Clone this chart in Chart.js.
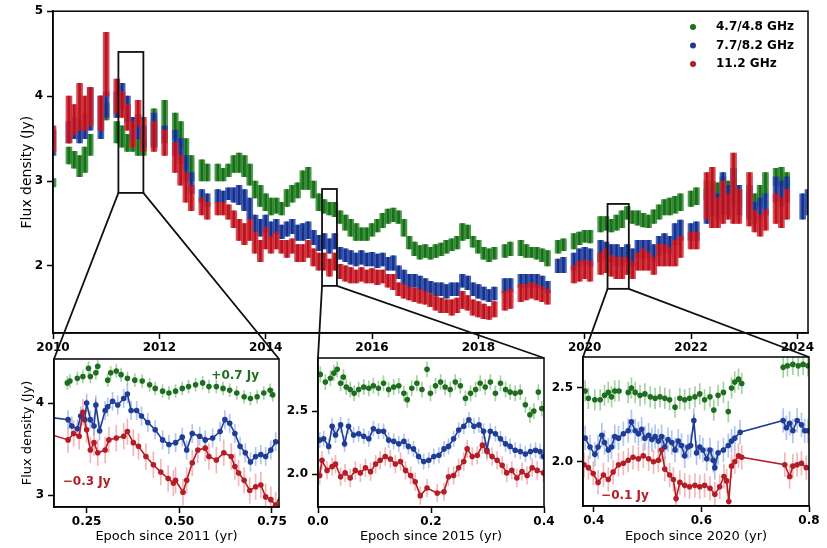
<!DOCTYPE html>
<html>
<head>
<meta charset="utf-8">
<script src="https://cdn.jsdelivr.net/npm/chart.js@4.4.1/dist/chart.umd.min.js"></script>
<style>
  html, body { margin: 0; padding: 0; background: #fff; }
  #wrap { position: relative; width: 827px; height: 548px; overflow: hidden; }
  #wrap canvas { position: absolute; left: 0; top: 0; }
</style>
</head>
<body>
<div id="wrap">
  <canvas id="main" width="827" height="548"></canvas>
  <canvas id="inset1" width="827" height="548"></canvas>
  <canvas id="inset2" width="827" height="548"></canvas>
  <canvas id="inset3" width="827" height="548"></canvas>
  <canvas id="links" width="827" height="548"></canvas>
</div>
<script>
"use strict";

// ---- main panel: epochs (yr) and flux band [low, high] in Jy per series ----
const mainEpochs = [
  2010.0, 2010.1, 2010.2, 2010.3, 2010.4, 2010.5, 2010.6, 2010.7, 2010.8, 2010.9,
  2011.0, 2011.1, 2011.2, 2011.3, 2011.4, 2011.5, 2011.6, 2011.7, 2011.8, 2011.9,
  2012.0, 2012.1, 2012.2, 2012.3, 2012.4, 2012.5, 2012.6, 2012.7, 2012.8, 2012.9,
  2013.0, 2013.1, 2013.2, 2013.3, 2013.4, 2013.5, 2013.6, 2013.7, 2013.8, 2013.9,
  2014.0, 2014.1, 2014.2, 2014.3, 2014.4, 2014.5, 2014.6, 2014.7, 2014.8, 2014.9,
  2015.0, 2015.1, 2015.2, 2015.3, 2015.4, 2015.5, 2015.6, 2015.7, 2015.8, 2015.9,
  2016.0, 2016.1, 2016.2, 2016.3, 2016.4, 2016.5, 2016.6, 2016.7, 2016.8, 2016.9,
  2017.0, 2017.1, 2017.2, 2017.3, 2017.4, 2017.5, 2017.6, 2017.7, 2017.8, 2017.9,
  2018.0, 2018.1, 2018.2, 2018.3, 2018.4, 2018.5, 2018.6, 2018.7, 2018.8, 2018.9,
  2019.0, 2019.1, 2019.2, 2019.3, 2019.4, 2019.5, 2019.6, 2019.7, 2019.8, 2019.9,
  2020.0, 2020.1, 2020.2, 2020.3, 2020.4, 2020.5, 2020.6, 2020.7, 2020.8, 2020.9,
  2021.0, 2021.1, 2021.2, 2021.3, 2021.4, 2021.5, 2021.6, 2021.7, 2021.8, 2021.9,
  2022.0, 2022.1, 2022.2, 2022.3, 2022.4, 2022.5, 2022.6, 2022.7, 2022.8, 2022.9,
  2023.0, 2023.1, 2023.2, 2023.3, 2023.4, 2023.5, 2023.6, 2023.7, 2023.8, 2023.9,
  2024.0, 2024.1, 2024.2
];

const fluxGreen = [
  [2.93,3.03],null,null,[3.2,3.4],[3.15,3.35],[3.05,3.3],[3.1,3.4],[3.3,3.55],null,null,
  [3.72,3.92],null,[3.45,3.7],[3.4,3.65],[3.35,3.55],[3.35,3.55],[3.3,3.5],[3.3,3.5],null,[3.4,3.85],
  null,[3.6,3.95],null,[3.5,3.8],[3.4,3.7],[3.15,3.5],[3.0,3.3],null,[3.0,3.25],[3.0,3.2],
  null,[3.0,3.2],[3.0,3.15],[3.05,3.2],[3.1,3.3],[3.1,3.33],[3.05,3.3],[2.95,3.2],[2.8,3.0],[2.7,2.95],
  [2.65,2.85],[2.6,2.8],[2.62,2.8],[2.6,2.75],[2.7,2.9],[2.75,2.95],[2.8,2.98],[2.9,3.12],[2.9,3.16],[2.8,3.0],
  [2.65,2.85],[2.62,2.78],[2.6,2.75],[2.58,2.75],[2.5,2.65],[2.42,2.6],[2.35,2.55],[2.3,2.5],[2.3,2.45],[2.3,2.45],
  [2.35,2.5],[2.4,2.55],[2.45,2.62],[2.5,2.67],[2.52,2.68],[2.5,2.65],[2.35,2.55],[2.2,2.35],[2.12,2.28],[2.08,2.24],
  [2.1,2.25],[2.08,2.22],[2.1,2.25],[2.12,2.27],[2.15,2.3],[2.18,2.32],[2.2,2.35],[2.3,2.5],[2.32,2.48],[2.22,2.35],
  [2.15,2.3],[2.08,2.22],[2.05,2.2],[2.08,2.22],null,[2.1,2.25],[2.12,2.28],null,[2.12,2.3],[2.1,2.25],
  [2.1,2.22],[2.08,2.22],[2.05,2.2],[2.0,2.18],null,[2.15,2.3],[2.18,2.32],null,[2.2,2.38],[2.25,2.4],
  [2.28,2.42],[2.27,2.42],null,[2.4,2.58],[2.42,2.58],[2.4,2.55],[2.42,2.6],[2.45,2.65],[2.55,2.7],[2.5,2.65],
  [2.48,2.65],[2.46,2.62],[2.45,2.6],[2.5,2.66],[2.55,2.72],[2.6,2.78],[2.6,2.8],[2.62,2.82],[2.65,2.85],null,
  [2.7,2.88],[2.72,2.92],null,[2.78,3.0],[2.8,3.0],[2.78,2.98],[2.8,3.05],[2.75,3.0],[2.78,3.0],[2.7,2.9],
  null,[2.6,2.85],[2.65,2.85],[2.7,2.95],[2.85,3.1],null,[2.95,3.15],[2.93,3.16],[2.9,3.1],null,
  null,null,null
];

const fluxBlue = [
  [3.3,3.6],null,null,[3.45,3.7],[3.5,3.75],[3.45,3.7],[3.5,3.8],[3.6,4.1],null,[3.5,4.0],
  [3.75,4.05],null,[3.75,4.05],[3.85,4.15],[3.7,4.0],[3.5,3.75],[3.5,3.78],[3.4,3.65],null,[3.4,3.8],
  null,[3.45,3.65],null,[3.3,3.6],[3.2,3.5],[3.0,3.3],[2.85,3.1],null,[2.75,2.9],[2.7,2.85],
  null,[2.75,2.9],[2.75,2.88],[2.78,2.92],[2.75,2.92],[2.72,2.95],[2.65,2.9],[2.55,2.8],[2.4,2.6],[2.35,2.55],
  [2.4,2.6],[2.35,2.52],[2.38,2.55],[2.32,2.48],[2.35,2.52],[2.38,2.55],[2.3,2.48],[2.3,2.5],[2.32,2.52],[2.25,2.42],
  [2.18,2.36],[2.2,2.38],[2.15,2.32],[2.2,2.38],[2.08,2.22],[2.05,2.2],[2.02,2.18],[2.0,2.15],[2.02,2.18],[2.0,2.15],
  [2.0,2.16],[1.98,2.14],[2.0,2.15],[1.95,2.1],[1.95,2.12],[1.85,2.0],[1.78,1.95],[1.75,1.9],[1.75,1.9],[1.72,1.88],
  [1.7,1.85],[1.68,1.82],[1.65,1.8],[1.65,1.8],[1.62,1.78],[1.65,1.8],[1.65,1.8],[1.75,1.9],[1.72,1.88],[1.65,1.8],
  [1.62,1.78],[1.6,1.75],[1.58,1.72],[1.6,1.75],null,[1.68,1.85],[1.7,1.85],null,[1.75,1.9],[1.75,1.9],
  [1.75,1.9],[1.75,1.9],[1.72,1.88],[1.68,1.82],null,[1.92,2.08],[1.92,2.1],null,[1.95,2.15],[2.0,2.2],
  [2.02,2.22],[2.0,2.2],null,[2.05,2.3],[2.08,2.28],[2.05,2.25],[2.0,2.25],[2.0,2.22],[2.05,2.25],[2.0,2.2],
  [2.1,2.3],[2.08,2.3],[2.1,2.3],[2.05,2.25],[2.12,2.35],[2.15,2.38],[2.15,2.35],[2.25,2.5],[2.3,2.54],null,
  [2.3,2.5],[2.3,2.52],null,[2.5,2.9],[2.6,2.95],[2.55,2.85],[2.6,3.1],[2.6,2.95],[2.7,3.15],[2.6,2.95],
  null,[2.55,2.95],[2.5,2.75],[2.55,2.8],[2.6,2.85],null,[2.75,3.05],[2.7,3.0],[2.75,3.05],null,
  null,[2.55,2.85],[2.6,2.9]
];

const fluxRed = [
  [3.35,3.65],null,null,[3.45,4.0],[3.55,3.9],[3.6,4.15],[3.6,4.0],[3.65,4.1],null,[3.6,4.0],
  [4.0,4.75],null,[3.8,4.2],[3.75,4.05],[3.6,3.9],[3.4,3.7],[3.65,3.95],[3.35,3.75],null,[3.35,3.7],
  null,[3.3,3.6],null,[3.1,3.45],[2.95,3.3],[2.75,3.1],[2.65,2.95],null,[2.6,2.8],[2.55,2.75],
  null,[2.6,2.75],[2.6,2.75],[2.55,2.72],[2.45,2.65],[2.3,2.55],[2.25,2.5],[2.3,2.55],[2.15,2.4],[2.05,2.3],
  [2.2,2.45],[2.15,2.35],[2.2,2.4],[2.15,2.3],[2.1,2.3],[2.15,2.32],[2.05,2.25],[2.05,2.25],[2.1,2.3],[2.0,2.2],
  [1.95,2.15],[1.95,2.15],[1.88,2.08],[1.95,2.15],[1.85,2.02],[1.82,2.0],[1.8,1.98],[1.8,1.95],[1.82,1.98],[1.8,1.95],
  [1.8,1.97],[1.78,1.95],[1.8,1.95],[1.75,1.9],[1.72,1.9],[1.65,1.8],[1.62,1.78],[1.6,1.75],[1.58,1.74],[1.56,1.72],
  [1.55,1.7],[1.52,1.67],[1.48,1.64],[1.45,1.62],[1.45,1.6],[1.42,1.6],[1.45,1.62],[1.5,1.7],[1.48,1.65],[1.42,1.6],
  [1.4,1.58],[1.38,1.55],[1.37,1.52],[1.4,1.58],null,[1.48,1.7],[1.5,1.72],null,[1.58,1.78],[1.6,1.78],
  [1.62,1.8],[1.6,1.78],[1.58,1.75],[1.55,1.72],null,null,null,null,[1.8,2.0],[1.82,2.05],
  [1.85,2.07],[1.82,2.05],null,[1.9,2.15],[1.92,2.2],[1.88,2.12],[1.85,2.1],[1.85,2.1],[1.9,2.1],[1.85,2.05],
  [1.95,2.15],[1.95,2.2],[1.95,2.15],[1.9,2.1],[2.0,2.25],[2.0,2.25],[2.0,2.22],[2.0,2.3],[2.1,2.35],null,
  [2.2,2.4],[2.2,2.4],null,[2.55,3.1],[2.45,3.16],[2.45,2.8],[2.5,3.0],[2.55,2.85],[2.5,3.33],[2.5,2.9],
  null,[2.47,3.1],[2.4,2.65],[2.35,2.6],[2.42,2.66],null,[2.5,2.85],[2.45,2.8],[2.55,2.9],null,
  null,null,null
];

const legendLabels = ["4.7/4.8 GHz", "7.7/8.2 GHz", "11.2 GHz"];
const mainXTicks = [2010, 2012, 2014, 2016, 2018, 2020, 2022, 2024];
const mainYTicks = [2, 3, 4, 5];

// zoom windows marked on the main panel: [x0, x1, y0, y1]
const zoomWindows = [
  [2011.23, 2011.70, 2.86, 4.52],
  [2015.06, 2015.34, 1.765, 2.906],
  [2020.43, 2020.83, 1.73, 2.73]
];

// ---- inset 1: epoch since 2011 ----
const in1GreenT = [0.198,0.205,0.225,0.24,0.255,0.26,0.275,0.28,0.307,0.315,0.33,0.343,0.36,0.38,0.4,0.42,0.435,0.455,0.472,0.49,0.508,0.525,0.544,0.563,0.58,0.6,0.618,0.636,0.655,0.675,0.692,0.71,0.728,0.745,0.752];
const in1GreenV = [4.22,4.24,4.27,4.29,4.38,4.29,4.33,4.4,4.25,4.33,4.35,4.31,4.27,4.25,4.24,4.2,4.16,4.13,4.11,4.13,4.16,4.18,4.2,4.22,4.18,4.18,4.16,4.14,4.11,4.07,4.05,4.07,4.11,4.14,4.09];
const in1BlueT = [0.12,0.2,0.21,0.225,0.234,0.245,0.25,0.26,0.27,0.275,0.285,0.3,0.307,0.32,0.334,0.35,0.36,0.37,0.385,0.398,0.415,0.435,0.455,0.472,0.49,0.508,0.52,0.535,0.555,0.57,0.59,0.61,0.623,0.636,0.65,0.664,0.678,0.692,0.706,0.72,0.733,0.747,0.76,0.80];
const in1BlueV = [3.86,3.82,3.75,3.72,3.86,3.82,4.0,3.82,3.75,3.98,3.7,3.92,3.96,4.02,3.98,4.05,4.1,3.92,3.92,3.86,3.79,3.71,3.6,3.55,3.57,3.63,3.49,3.67,3.64,3.6,3.62,3.69,3.82,3.78,3.67,3.53,3.46,3.36,3.42,3.44,3.42,3.49,3.58,3.53];
const in1RedT = [0.12,0.2,0.215,0.23,0.24,0.25,0.26,0.27,0.28,0.3,0.31,0.33,0.35,0.36,0.376,0.39,0.41,0.43,0.45,0.47,0.484,0.49,0.51,0.52,0.535,0.55,0.57,0.58,0.6,0.62,0.64,0.65,0.66,0.675,0.69,0.706,0.72,0.733,0.747,0.76,0.785];
const in1RedV = [3.7,3.6,3.67,3.64,3.9,3.71,3.49,3.57,3.46,3.49,3.6,3.62,3.64,3.69,3.57,3.53,3.42,3.33,3.25,3.18,3.13,3.16,3.03,3.16,3.35,3.49,3.51,3.42,3.38,3.46,3.42,3.31,3.24,3.16,3.05,3.09,3.11,2.98,2.95,2.89,3.1];

// ---- inset 2: epoch since 2015 ----
const in2GreenT = [0.004,0.013,0.022,0.028,0.034,0.04,0.045,0.05,0.057,0.064,0.072,0.081,0.09,0.098,0.107,0.116,0.125,0.134,0.143,0.152,0.158,0.166,0.175,0.184,0.193,0.199,0.208,0.217,0.225,0.234,0.243,0.252,0.261,0.27,0.279,0.287,0.296,0.305,0.314,0.323,0.332,0.34,0.349,0.358,0.367,0.375,0.382,0.39,0.396];
const in2GreenV = [2.79,2.73,2.76,2.8,2.83,2.72,2.77,2.69,2.67,2.64,2.67,2.69,2.68,2.7,2.68,2.72,2.67,2.69,2.7,2.64,2.59,2.68,2.72,2.67,2.83,2.64,2.7,2.73,2.69,2.67,2.73,2.7,2.6,2.64,2.67,2.72,2.69,2.73,2.64,2.72,2.67,2.65,2.64,2.65,2.55,2.47,2.5,2.65,2.52];
const in2BlueT = [0.003,0.01,0.019,0.025,0.031,0.04,0.047,0.054,0.063,0.072,0.081,0.09,0.098,0.107,0.116,0.125,0.134,0.143,0.152,0.16,0.169,0.178,0.187,0.196,0.205,0.214,0.223,0.231,0.24,0.249,0.258,0.267,0.276,0.285,0.293,0.299,0.305,0.314,0.323,0.332,0.34,0.349,0.358,0.367,0.376,0.385,0.393,0.399];
const in2BlueV = [2.27,2.28,2.22,2.38,2.31,2.39,2.24,2.38,2.31,2.32,2.3,2.28,2.36,2.34,2.34,2.27,2.26,2.24,2.26,2.22,2.2,2.14,2.1,2.11,2.14,2.15,2.2,2.22,2.28,2.35,2.38,2.43,2.38,2.39,2.34,2.19,2.34,2.32,2.28,2.24,2.22,2.19,2.18,2.16,2.18,2.19,2.18,2.14];
const in2RedT = [0.003,0.007,0.016,0.025,0.031,0.04,0.048,0.057,0.066,0.075,0.084,0.093,0.102,0.11,0.119,0.128,0.137,0.146,0.155,0.164,0.172,0.181,0.193,0.211,0.223,0.231,0.24,0.249,0.258,0.264,0.273,0.282,0.291,0.299,0.308,0.317,0.326,0.334,0.343,0.352,0.361,0.37,0.379,0.388,0.399];
const in2RedV = [1.99,2.11,2.03,2.06,2.08,1.98,2.01,1.97,2.03,2.01,2.05,2.02,2.08,2.11,2.14,2.12,2.08,2.1,2.03,1.99,1.94,1.83,1.89,1.85,1.86,1.98,1.99,2.05,2.1,2.2,2.14,2.15,2.23,2.18,2.14,2.11,2.07,2.01,2.03,1.97,2.02,1.99,2.05,2.03,2.01];

// ---- inset 3: epoch since 2020 ----
const in3GreenT = [0.384,0.39,0.402,0.412,0.42,0.427,0.433,0.439,0.447,0.464,0.47,0.477,0.486,0.495,0.505,0.514,0.523,0.532,0.541,0.551,0.56,0.569,0.578,0.588,0.597,0.606,0.616,0.623,0.631,0.641,0.65,0.656,0.662,0.669,0.675,0.752,0.76,0.77,0.78,0.789,0.798];
const in3GreenV = [2.48,2.43,2.42,2.42,2.45,2.47,2.44,2.48,2.48,2.47,2.5,2.47,2.45,2.46,2.44,2.43,2.44,2.43,2.42,2.37,2.43,2.42,2.43,2.44,2.46,2.42,2.44,2.35,2.45,2.47,2.34,2.5,2.54,2.56,2.53,2.64,2.65,2.66,2.65,2.66,2.65];
const in3BlueT = [0.384,0.393,0.402,0.408,0.415,0.42,0.427,0.433,0.439,0.446,0.455,0.464,0.47,0.477,0.483,0.489,0.495,0.502,0.508,0.514,0.52,0.526,0.532,0.538,0.545,0.551,0.557,0.563,0.569,0.575,0.58,0.586,0.591,0.597,0.603,0.61,0.616,0.622,0.625,0.631,0.641,0.65,0.656,0.662,0.672,0.752,0.758,0.764,0.77,0.778,0.786,0.792,0.798];
const in3BlueV = [2.16,2.1,2.05,2.1,2.18,2.13,2.08,2.1,2.17,2.16,2.19,2.21,2.27,2.21,2.19,2.22,2.16,2.18,2.15,2.17,2.14,2.17,2.1,2.15,2.13,2.08,2.14,2.11,2.04,2.1,2.11,2.28,2.06,2.1,2.08,2.02,2.08,2.01,1.96,2.06,2.08,2.11,2.14,2.16,2.2,2.28,2.23,2.26,2.21,2.28,2.25,2.21,2.21];
const in3RedT = [0.382,0.39,0.399,0.408,0.418,0.427,0.436,0.446,0.455,0.464,0.473,0.483,0.492,0.502,0.511,0.52,0.526,0.532,0.541,0.548,0.553,0.56,0.569,0.578,0.588,0.597,0.606,0.616,0.625,0.634,0.642,0.647,0.651,0.656,0.662,0.669,0.675,0.755,0.764,0.77,0.778,0.786,0.795];
const in3RedV = [1.98,1.96,1.92,1.86,1.91,1.88,1.93,1.98,1.99,2.01,2.03,2.02,2.04,2.02,2.0,2.01,2.08,1.95,1.91,1.88,1.75,1.86,1.84,1.83,1.84,1.83,1.84,1.82,1.78,1.83,1.9,1.87,1.73,1.97,2.0,2.04,2.03,1.98,1.9,1.97,1.98,1.99,1.96];

// ---- look ----
const PAGE_W = 827, PAGE_H = 548;
const haloColors = ["rgba(45,138,45,0.85)", "rgba(40,75,170,0.85)", "rgba(210,40,50,0.85)"];
const coreColors = ["rgba(22,108,22,0.95)", "rgba(22,45,135,0.95)", "rgba(180,18,28,0.95)"];
const markColors = ["#1d6e1d", "#1f3c96", "#b51d26"];
const errColors = ["rgba(90,170,90,0.55)", "rgba(110,150,225,0.55)", "rgba(235,120,130,0.55)"];
const tickFont = { size: 12, weight: "bold" };

Chart.defaults.font.family = "'DejaVu Sans', sans-serif";
Chart.defaults.color = "#000";

/**
 * Layout padding that puts the chart area at the wanted page box
 */
function padFor(area, yAxisW, xAxisH) {
  return {
    left: area.left - yAxisW,
    top: area.top,
    right: PAGE_W - area.right,
    bottom: PAGE_H - area.bottom - xAxisH,
  };
}

/**
 * Builds one linear axis with matplotlib-like outward ticks
 */
function axis(dir, range, ticks, fmt, size, title, titleSize) {
  return {
    type: "linear",
    min: range[0],
    max: range[1],
    offset: false,
    afterBuildTicks: (s) => { s.ticks = ticks.map((v) => ({ value: v })); },
    afterFit: (s) => { if (dir === "x") s.height = size; else s.width = size; },
    ticks: { callback: (v) => fmt(v), font: tickFont, color: "#000", padding: dir === "x" ? 2 : 4, maxRotation: 0, autoSkip: false },
    grid: { drawOnChartArea: false, offset: false, tickLength: 6, tickWidth: 1.5, tickColor: "#000" },
    border: { color: "#000", width: 1.5 },
    title: title
      ? { display: true, text: title, font: { size: titleSize }, color: "#000", padding: { top: 4, bottom: 4 } }
      : { display: false },
  };
}

// box round the plot area
const framePlugin = {
  id: "frame",
  afterDraw(chart) {
    const { ctx, chartArea: a } = chart;
    ctx.save();
    ctx.strokeStyle = "#000";
    ctx.lineWidth = 1.5;
    ctx.strokeRect(a.left, a.top, a.right - a.left, a.bottom - a.top);
    ctx.restore();
  },
};

// dot legend in the top right of the main panel
const dotLegendPlugin = {
  id: "dotLegend",
  afterDraw(chart, args, opts) {
    const ctx = chart.ctx;
    ctx.save();
    ctx.font = "bold 12px 'DejaVu Sans'";
    ctx.textBaseline = "middle";
    legendLabels.forEach((label, i) => {
      const y = opts.top + i * opts.gap;
      ctx.fillStyle = markColors[i];
      ctx.beginPath();
      ctx.arc(opts.left, y, 3, 0, Math.PI * 2);
      ctx.fill();
      ctx.fillStyle = "#000";
      ctx.fillText(label, opts.left + 23, y);
    });
    ctx.restore();
  },
};

// offset notes inside the insets, placed in data units
const notesPlugin = {
  id: "notes",
  afterDraw(chart, args, opts) {
    const { ctx, scales } = chart;
    ctx.save();
    ctx.font = "bold 12px 'DejaVu Sans'";
    ctx.textAlign = "center";
    ctx.textBaseline = "middle";
    (opts.items || []).forEach((n) => {
      ctx.fillStyle = n.color;
      ctx.fillText(n.text, scales.x.getPixelForValue(n.x), scales.y.getPixelForValue(n.y));
    });
    ctx.restore();
  },
};

/**
 * One series of the main panel as a wide band plus a thin darker streak
 */
const bandBars = (ranges, i) => {
  const data = mainEpochs.map((x, k) => ranges[k] && { x: x, y: ranges[k] }).filter(Boolean);
  return [
    { label: legendLabels[i], data: data, backgroundColor: coreColors[i], borderWidth: 0, barThickness: 2, grouped: false },
    { label: legendLabels[i], data: data, backgroundColor: haloColors[i], borderWidth: 0, barThickness: 6, grouped: false },
  ];
};

const mainChart = new Chart(document.getElementById("main"), {
  type: "bar",
  data: {
    datasets: [...bandBars(fluxRed, 2), ...bandBars(fluxBlue, 1), ...bandBars(fluxGreen, 0)],
  },
  options: {
    responsive: false,
    animation: false,
    devicePixelRatio: 1,
    layout: { padding: padFor({ left: 53, top: 11, right: 808, bottom: 333 }, 38, 27) },
    plugins: {
      legend: { display: false },
      tooltip: { enabled: false },
      dotLegend: { left: 693, top: 27, gap: 18.5 },
    },
    scales: {
      x: axis("x", [2010, 2024.2], mainXTicks, (v) => String(v), 27),
      y: axis("y", [1.21, 5], mainYTicks, (v) => String(v), 38, "Flux density (Jy)", 14),
    },
  },
  plugins: [framePlugin, dotLegendPlugin],
});

/**
 * Markers (optionally joined) plus faint error bars for one inset series
 */
function insetSeries(t, v, i, err, joined) {
  return [
    {
      type: "line",
      data: t.map((x, k) => ({ x: x, y: v[k] })),
      borderColor: markColors[i],
      backgroundColor: markColors[i],
      borderWidth: 1.6,
      showLine: joined,
      pointRadius: 2.8,
      pointBorderWidth: 0,
      order: 3 - i,
    },
    {
      type: "bar",
      data: t.map((x, k) => ({ x: x, y: [v[k] - err, v[k] + err] })),
      backgroundColor: errColors[i],
      barThickness: 1,
      grouped: false,
      order: 10,
    },
  ];
}

function buildInset(id, area, yAxisW, xr, yr, xTicks, yTicks, xFmt, yFmt, series, xTitle, yTitle, notes) {
  return new Chart(document.getElementById(id), {
    type: "line",
    data: { datasets: series.flat() },
    options: {
      responsive: false,
      animation: false,
      devicePixelRatio: 1,
      layout: { padding: padFor(area, yAxisW, PAGE_H - area.bottom) },
      plugins: { legend: { display: false }, tooltip: { enabled: false }, notes: { items: notes } },
      scales: {
        x: axis("x", xr, xTicks, xFmt, PAGE_H - area.bottom, xTitle, 13),
        y: axis("y", yr, yTicks, yFmt, yAxisW, yTitle, 13),
      },
    },
    plugins: [framePlugin, notesPlugin],
  });
}

const inset1 = buildInset(
  "inset1", { left: 54, top: 359, right: 279, bottom: 507 }, 38,
  [0.162, 0.769], [2.87, 4.48], [0.25, 0.5, 0.75], [3, 4],
  (v) => v.toFixed(2), (v) => String(v),
  [
    insetSeries(in1GreenT, in1GreenV, 0, 0.07, false),
    insetSeries(in1BlueT, in1BlueV, 1, 0.1, true),
    insetSeries(in1RedT, in1RedV, 2, 0.14, true),
  ],
  "Epoch since 2011 (yr)", "Flux density (Jy)",
  [
    { text: "+0.7 Jy", x: 0.651, y: 4.3, color: markColors[0] },
    { text: "\u22120.3 Jy", x: 0.25, y: 3.14, color: markColors[2] },
  ]
);

const inset2 = buildInset(
  "inset2", { left: 318, top: 358, right: 544, bottom: 507 }, 34,
  [0, 0.4], [1.74, 2.92], [0, 0.2, 0.4], [2.0, 2.5],
  (v) => v.toFixed(1), (v) => v.toFixed(1),
  [
    insetSeries(in2GreenT, in2GreenV, 0, 0.06, false),
    insetSeries(in2BlueT, in2BlueV, 1, 0.06, true),
    insetSeries(in2RedT, in2RedV, 2, 0.07, true),
  ],
  "Epoch since 2015 (yr)", null, []
);

const inset3 = buildInset(
  "inset3", { left: 583, top: 357, right: 809, bottom: 506 }, 34,
  [0.38, 0.8], [1.70, 2.71], [0.4, 0.6, 0.8], [2.0, 2.5],
  (v) => v.toFixed(1), (v) => v.toFixed(1),
  [
    insetSeries(in3GreenT, in3GreenV, 0, 0.07, false),
    insetSeries(in3BlueT, in3BlueV, 1, 0.08, true),
    insetSeries(in3RedT, in3RedV, 2, 0.08, true),
  ],
  "Epoch since 2020 (yr)", null,
  [{ text: "\u22120.1 Jy", x: 0.458, y: 1.77, color: markColors[2] }]
);

/**
 * Zoom boxes on the main panel and the lines down to each inset
 */
function drawZoomLinks() {
  const ctx = document.getElementById("links").getContext("2d");
  const xs = mainChart.scales.x, ys = mainChart.scales.y;
  const insets = [inset1, inset2, inset3];
  ctx.strokeStyle = "#111";
  ctx.lineWidth = 1.8;
  zoomWindows.forEach((w, k) => {
    const l = xs.getPixelForValue(w[0]), r = xs.getPixelForValue(w[1]);
    const b = ys.getPixelForValue(w[2]), t = ys.getPixelForValue(w[3]);
    ctx.strokeRect(l, t, r - l, b - t);
    const a = insets[k].chartArea;
    ctx.beginPath();
    ctx.moveTo(l, b);
    ctx.lineTo(a.left, a.top);
    ctx.moveTo(r, b);
    ctx.lineTo(a.right, a.top);
    ctx.stroke();
  });
}

drawZoomLinks();
</script>
</body>
</html>
